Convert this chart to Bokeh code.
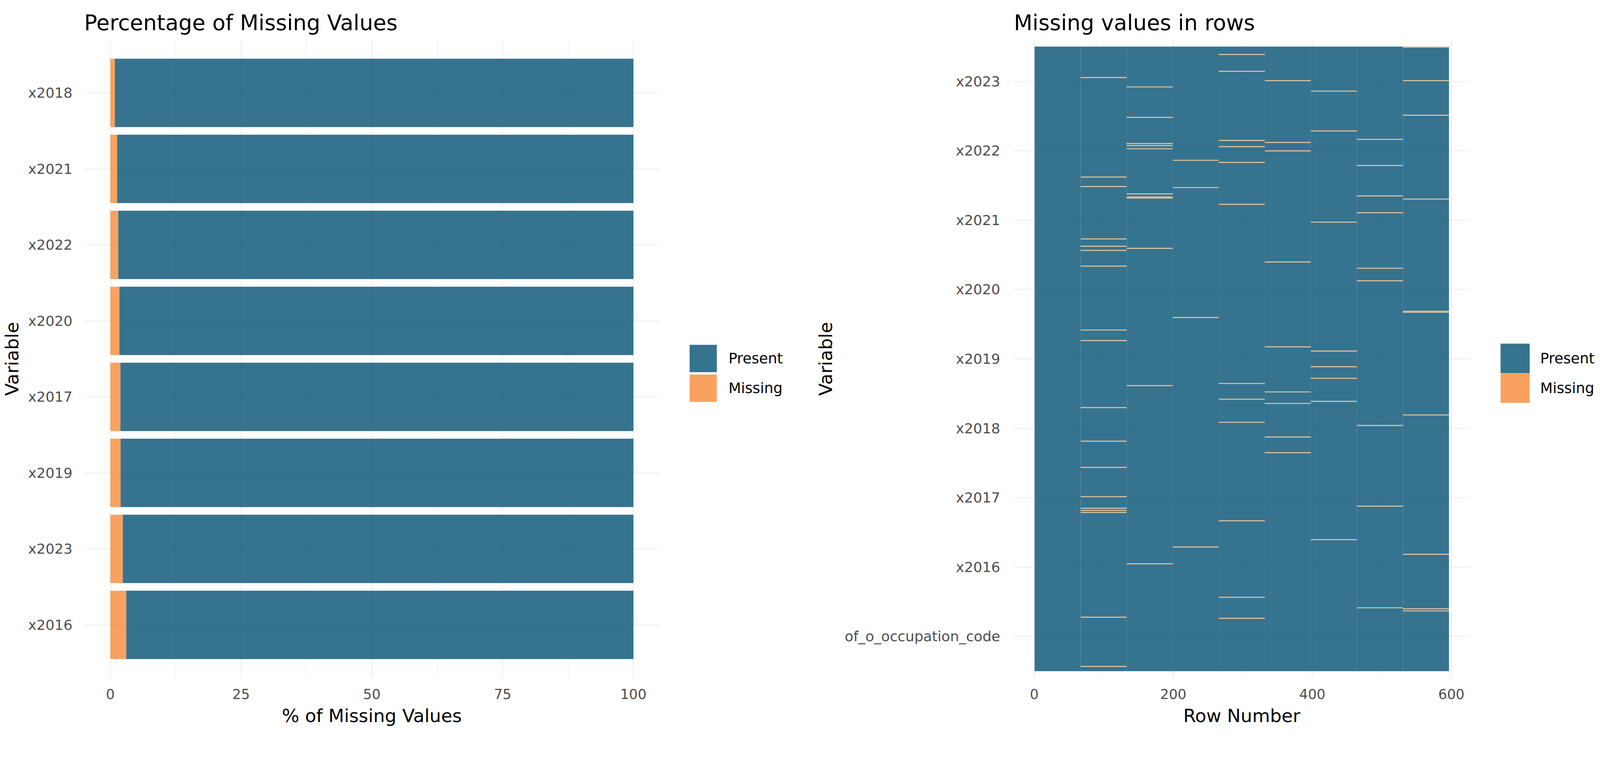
from bokeh.plotting import figure
from bokeh.models import (FactorRange, Range1d, FixedTicker, Legend, LegendItem,
                          ColumnDataSource, LinearScale)
from bokeh.layouts import row
from bokeh.embed import file_html
from bokeh.resources import INLINE

FONT = "DejaVu Sans"

# ---------------- data: left panel ----------------
bar_vars = ["x2018", "x2021", "x2022", "x2020", "x2017", "x2019", "x2023", "x2016"]  # top -> bottom
pct_missing = [0.87, 1.30, 1.51, 1.74, 1.93, 1.96, 2.38, 3.04]
pct_ticks = [0, 25, 50, 75, 100]
pct_minor = [12.5, 37.5, 62.5, 87.5]

# ---------------- data: right panel ----------------
heat_vars = ["of_o_occupation_code", "x2016", "x2017", "x2018", "x2019",
             "x2020", "x2021", "x2022", "x2023"]  # bottom -> top
n_rows = 596
missing_rows = {
    "of_o_occupation_code": [],
    "x2016": [30, 125, 134, 184, 191, 195, 210, 271, 281, 345, 377, 402, 430, 441, 443, 445, 545, 592],
    "x2017": [39, 68, 93, 95, 98, 141, 144, 145, 193, 324, 494],
    "x2018": [109, 135, 259, 478],
    "x2019": [8, 24, 90, 96, 111, 151, 322, 337, 359, 453, 526, 546],
    "x2020": [33, 92, 100, 206, 287, 330, 341, 373, 388],
    "x2021": [43, 81, 168, 291, 306, 317, 339, 471],
    "x2022": [89, 114, 143, 159, 212, 224, 362, 439, 536],
    "x2023": [1, 33, 66, 146, 253, 254, 352, 485, 537, 539],
}
row_ticks = [0, 200, 400, 600]
row_minor = [100, 300, 500]
legend_labels = ["Present", "Missing"]

# ---------------- style ----------------
PRESENT = "#045073"
MISSING = "#F88B37"
ALPHA = 0.8
MARK = "#E2C29E"
GRID = "#EBEBEB"
TICK_COLOR = "#4D4D4D"

# the page renders slightly enlarged; lay out in CSS px = picture px / ZOOM
ZOOM = 1.05
M = 8


def c(v):
    return v / ZOOM


def ci(v):
    return int(round(v / ZOOM))


def fs(v):
    return "%.1fpx" % (v / ZOOM)


H = 1870
top_b = ci(114) - M
frame_h = ci(1716)
bottom_b = H - top_b - frame_h


def style(p):
    p.title.text_font = FONT
    p.title.text_font_size = fs(58)
    p.title.text_font_style = "normal"
    p.title.text_color = "black"
    p.title.align = "left"
    p.title.standoff = c(24)
    p.outline_line_color = None
    p.background_fill_color = "white"
    p.border_fill_color = "white"
    for ax in (p.xaxis[0], p.yaxis[0]):
        ax.axis_line_color = None
        ax.major_tick_line_color = None
        ax.minor_tick_line_color = None
        ax.major_label_text_font = FONT
        ax.major_label_text_color = TICK_COLOR
        ax.axis_label_text_font = FONT
        ax.axis_label_text_font_size = fs(49)
        ax.axis_label_text_font_style = "normal"
        ax.axis_label_text_color = "black"
    p.xaxis[0].major_label_text_font_size = fs(37)
    p.yaxis[0].major_label_text_font_size = fs(38)
    p.xaxis[0].major_label_standoff = ci(22)
    p.xaxis[0].axis_label_standoff = ci(14)
    p.xgrid.grid_line_color = GRID
    p.xgrid.grid_line_width = c(2.2)
    p.xgrid.minor_grid_line_color = GRID
    p.xgrid.minor_grid_line_width = c(1.2)
    p.ygrid.grid_line_color = GRID
    p.ygrid.grid_line_width = c(2.2)


def legend_figure(width, left, top, key_w, key_h, thick, standoff, src, xcol, ycol):
    """A small figure holding only a legend whose top-left corner is at (left, top).
    Keys are drawn as thick line strokes so they fill the key box."""
    lf = figure(width=width, height=H, x_range=Range1d(-2, -1), y_range=Range1d(-2, -1),
                output_backend="svg", toolbar_location=None,
                x_axis_location=None, y_axis_location=None,
                min_border_left=left, min_border_right=0,
                min_border_top=top, min_border_bottom=H - top - 300,
                frame_align=False)
    lf.outline_line_color = None
    lf.grid.visible = False
    lf.background_fill_color = "white"
    lf.border_fill_color = "white"
    rs = []
    for colour in (PRESENT, MISSING):
        # proxies for the legend only; their data lie outside this figure's view
        rs.append(lf.line(x=xcol, y=ycol, source=src, line_color=colour,
                          line_alpha=ALPHA, line_width=thick, line_cap="butt"))
    lg = Legend(
        items=[LegendItem(label=lab, renderers=[r]) for lab, r in zip(legend_labels, rs)],
        location="top_left", orientation="vertical",
        glyph_width=key_w, glyph_height=key_h, label_height=key_h,
        spacing=0, padding=0, margin=0, label_standoff=standoff,
        border_line_color=None, background_fill_alpha=0,
        label_text_font=FONT, label_text_font_size=fs(39), label_text_color="black",
    )
    lf.add_layout(lg)
    return lf


# ---------------- left figure ----------------
xA0 = M
WA = ci(1800) - xA0
bl_A = ci(225) - xA0
frameA_w = ci(1556)
yA = FactorRange(factors=bar_vars[::-1], range_padding=0.2, range_padding_units="absolute")
pA = figure(width=WA, height=H, y_range=yA, x_range=Range1d(-5, 105),
            output_backend="svg", toolbar_location=None, frame_align=False,
            min_border_left=bl_A, min_border_right=WA - bl_A - frameA_w,
            min_border_top=top_b, min_border_bottom=bottom_b,
            title="Percentage of Missing Values")
present_pct = [100 - m for m in pct_missing]
srcA = ColumnDataSource(dict(var=bar_vars, missing=pct_missing,
                             end=[m + p for m, p in zip(pct_missing, present_pct)],
                             zero=[0] * len(bar_vars)))
pA.hbar(y="var", left=0, right="missing", height=0.9, source=srcA,
        fill_color=MISSING, fill_alpha=ALPHA, line_color=None)
pA.hbar(y="var", left="missing", right="end", height=0.9, source=srcA,
        fill_color=PRESENT, fill_alpha=ALPHA, line_color=None)
style(pA)
pA.xaxis.ticker = FixedTicker(ticks=pct_ticks, minor_ticks=pct_minor)
pA.xgrid.ticker = FixedTicker(ticks=pct_ticks, minor_ticks=pct_minor)
pA.xaxis.axis_label = "% of Missing Values"
pA.yaxis.axis_label = "Variable"
pA.yaxis.major_label_standoff = ci(25)
pA.yaxis.axis_label_standoff = ci(12)

# ---------------- left legend ----------------
xL0 = xA0 + WA
WL = ci(2150) - xL0
leg_top = ci(931.5) - M
legA = legend_figure(WL, ci(1862) - xL0, leg_top, ci(73), ci(80), ci(73), ci(32),
                     srcA, "zero", "missing")

# ---------------- right figure ----------------
xB0 = xL0 + WL
WB = ci(3980) - xB0
bl_B = ci(2733) - xB0
frameB_w = ci(1225)
pad_x = 0.05 * n_rows
x_start, x_end = 0.5 - pad_x, n_rows + 0.5 + pad_x
n_var = len(heat_vars)
col_w = n_rows / n_var
pB = figure(width=WB, height=H, y_range=Range1d(-0.1, n_var + 0.1),
            x_range=Range1d(x_start, x_end),
            output_backend="svg", toolbar_location=None, frame_align=False,
            min_border_left=bl_B, min_border_right=WB - bl_B - frameB_w,
            min_border_top=top_b, min_border_bottom=bottom_b,
            title="Missing values in rows")
pB.extra_x_ranges = {"var": Range1d((x_start - 0.5) / col_w,
                                    n_var + (x_end - (n_rows + 0.5)) / col_w)}
pB.extra_x_scales = {"var": LinearScale()}
row_pad = 0.1 * n_rows / n_var
pB.extra_y_ranges = {"row": Range1d(n_rows + row_pad, -row_pad)}
pB.extra_y_scales = {"row": LinearScale()}

tiles = ColumnDataSource(dict(left=list(range(n_var)), right=[i + 1 for i in range(n_var)],
                              top=[0] * n_var, bottom=[n_rows] * n_var))
pB.quad(left="left", right="right", top="top", bottom="bottom", source=tiles,
        x_range_name="var", y_range_name="row",
        fill_color=PRESENT, fill_alpha=ALPHA, line_color=None)
ml, mr, mt, mb = [], [], [], []
for j, v in enumerate(heat_vars):
    for r in missing_rows[v]:
        ml.append(j); mr.append(j + 1); mt.append(r - 1); mb.append(r)
marks = ColumnDataSource(dict(left=ml, right=mr, top=mt, bottom=mb))
pB.quad(left="left", right="right", top="top", bottom="bottom", source=marks,
        x_range_name="var", y_range_name="row",
        fill_color=MARK, fill_alpha=1.0, line_color=None)
style(pB)
pB.xaxis.ticker = FixedTicker(ticks=row_ticks, minor_ticks=row_minor)
pB.xgrid.ticker = FixedTicker(ticks=row_ticks, minor_ticks=row_minor)
var_centers = [i + 0.5 for i in range(n_var)]
pB.yaxis.ticker = FixedTicker(ticks=var_centers, minor_ticks=[])
pB.ygrid.ticker = FixedTicker(ticks=var_centers, minor_ticks=[])
pB.yaxis.major_label_overrides = {cc: v for cc, v in zip(var_centers, heat_vars)}
pB.xaxis.axis_label = "Row Number"
pB.yaxis.axis_label = "Variable"
pB.yaxis.major_label_standoff = ci(30)
pB.yaxis.axis_label_standoff = ci(20)

# ---------------- right legend ----------------
xR0 = xB0 + WB
WR = ci(4320) - M - xR0
keyB_w = ci(79)
legB = legend_figure(WR, ci(4041) - xR0, leg_top, keyB_w, ci(80), ci(80),
                     ci(4149) - ci(4041) - keyB_w, tiles, "left", "top")

layout = row(pA, legA, pB, legB)
open("out.html", "w").write(file_html(layout, INLINE))
